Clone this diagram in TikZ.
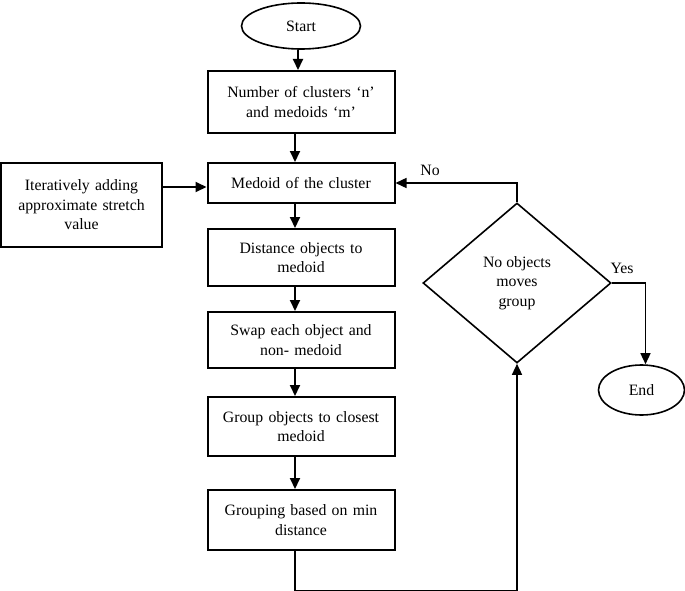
\documentclass[tikz,border=0pt]{standalone}
\usepackage{fontspec}
\setmainfont{Liberation Serif}
\usetikzlibrary{shapes.geometric,arrows.meta}
\begin{document}
\begin{tikzpicture}[x=1pt,y=-1pt,
  every node/.style={font=\fontsize{15.8}{19.5}\selectfont, align=center},
  procbox/.style={draw, line width=2pt, minimum width=187pt, text width=180pt, inner sep=0pt},
  term/.style={draw, ellipse, line width=1.6pt, inner sep=0pt},
  arr/.style={line width=2pt, -{Triangle[length=11pt,width=10pt]}},
  link/.style={line width=1.4pt, -{Triangle[length=11pt,width=10pt]}}]
\useasboundingbox (0,0) rectangle (685,591);
\node[term, minimum width=119pt, minimum height=46pt] (start) at (301,26) {Start};
\node[procbox, minimum height=62pt] (b1) at (301,102) {Number of clusters ‘n’\\and medoids ‘m’};
\node[procbox, minimum height=40pt] (b2) at (301,183) {Medoid of the cluster};
\node[procbox, minimum width=161pt, text width=155pt, minimum height=84pt] (it) at (81.5,205) {Iteratively adding\\approximate stretch\\value};
\node[procbox, minimum height=57pt] (b3) at (301,257.5) {Distance objects to\\medoid};
\node[procbox, minimum height=56pt] (b4) at (301,340) {Swap each object and\\non- medoid};
\node[procbox, minimum height=59pt] (b5) at (301,426.5) {Group objects to closest\\medoid};
\node[procbox, minimum height=60pt] (b6) at (301,520) {Grouping based on min\\distance};
\node[draw, diamond, line width=1.6pt, minimum width=188pt, minimum height=160pt, inner sep=0pt] (dec) at (517,283) {No objects\\moves\\group};
\node[term, minimum width=86pt, minimum height=50pt] (end) at (641.5,390) {End};
\node (no) at (430,170) {No};
\node (yes) at (622,268) {Yes};
\coordinate (c0) at (298,0);
\coordinate (c1) at (295,0);
\coordinate (c2) at (0,187);
\draw[arr] (c0 |- start.south) -- (c0 |- b1.north);
\draw[arr] (c1 |- b1.south) -- (c1 |- b2.north);
\draw[arr] (it.east |- c2) -- (b2.west |- c2);
\draw[arr] (c1 |- b2.south) -- (c1 |- b3.north);
\draw[arr] (c1 |- b3.south) -- (c1 |- b4.north);
\draw[arr] (c1 |- b4.south) -- (c1 |- b5.north);
\draw[arr] (c1 |- b5.south) -- (c1 |- b6.north);
\draw[link] (c1 |- b6.south) -- ++(0,40) -| (dec.south);
\draw[link] (dec.north) |- (b2.east);
\draw[link] (dec.east) -| ([xshift=4pt]end.north);
\end{tikzpicture}
\end{document}
